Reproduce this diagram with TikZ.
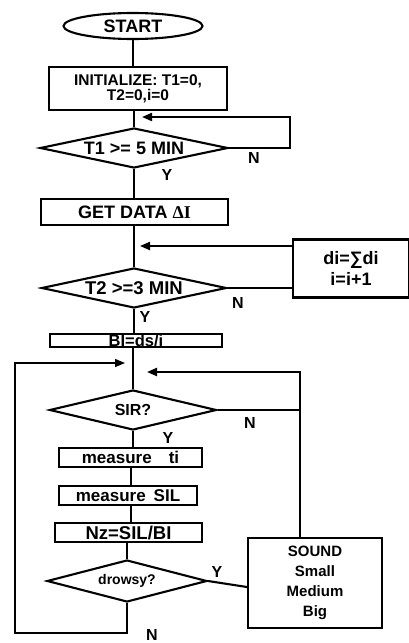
\documentclass[tikz,border=0pt]{standalone}
\usepackage{fontspec}
\setmainfont{Liberation Sans}
\newfontfamily\serifface{Liberation Serif}
\usetikzlibrary{shapes.geometric,arrows.meta}
\newcommand{\fs}[1]{\bfseries\fontsize{#1}{#1}\selectfont}
\begin{document}
\begin{tikzpicture}[x=1pt,y=-1pt,line width=2.1pt,
  box/.style={draw,rectangle,inner sep=0pt,font=\fs{17}},
  dec/.style={draw,diamond,aspect=4.5,inner sep=0pt,font=\fs{18}},
  lbl/.style={font=\fs{16},inner sep=0pt},
  arr/.style={-{Triangle[length=10pt,width=8pt]}},
  thinline/.style={line width=1.3pt}]
\useasboundingbox (0,0) rectangle (409,643);

% main column
\node[draw,ellipse,minimum width=139pt,minimum height=26pt,inner sep=0pt,font=\fs{18}] (start) at (133,26) {START};
\node[box,minimum width=178pt,minimum height=43pt,align=center,font=\bfseries\fontsize{15.5}{15}\selectfont] (init) at (138,88.5) {INITIALIZE: T1=0,\\T2=0,i=0};
\node[dec,minimum width=188pt,minimum height=40pt] (d1) at (134,148) {T1 >= 5 MIN};
\node[box,minimum width=187pt,minimum height=26pt,font=\fs{18}] (get) at (134.5,212) {GET DATA {\serifface ΔI}};
\node[box,minimum width=116pt,minimum height=58pt,align=center,font=\bfseries\fontsize{18}{21}\selectfont] (di) at (351,268.5) {di=∑di\\i=i+1};
\node[dec,minimum width=185pt,minimum height=40pt,font=\fs{18.5}] (d2) at (134,288) {T2 >=3 MIN};
\node[box,minimum width=172pt,minimum height=13pt,text height=12pt,text depth=1pt,font=\fs{16.5}] (bi) at (136,340.5) {BI=ds/i};
\node[dec,minimum width=167pt,minimum height=40pt,font=\fs{16}] (sir) at (133,410) {SIR?};
\node[box,minimum width=143pt,minimum height=19pt] (mti) at (130.5,457.5) {measure\hspace{17pt}ti};
\node[box,minimum width=138pt,minimum height=19pt] (msil) at (128,495.5) {measure\hspace{8pt}SIL};
\node[box,minimum width=147pt,minimum height=19pt,font=\fs{18.5}] (nz) at (128.5,532.5) {Nz=SIL/BI};
\node[dec,minimum width=160pt,minimum height=42pt,font=\fs{14}] (dr) at (127,581) {drowsy?};
\node[box,minimum width=134pt,minimum height=90pt,align=center,font=\bfseries\fontsize{15}{20}\selectfont] (snd) at (315,583) {SOUND\\Small\\Medium\\Big};

% helper points for loops
\coordinate (spine) at (131,0);
\coordinate (l1c) at (290,117);
\coordinate (l1t) at (142,117);
\coordinate (l2t) at (140,246);
\coordinate (r3) at (300,372);
\coordinate (r3t) at (147,372);
\coordinate (lb) at (15,633);
\coordinate (lt) at (125,363);

% straight flow
\draw (start.south) -- (start.south |- init.north);
\draw (init.south -| d1.north) -- (d1.north);
\draw (d1.south) -- (d1.south |- get.north);
\draw (get.south -| d2.north) -- (d2.north);
\draw (d2.south) -- (d2.south |- bi.north);
\draw (bi.south -| sir.north) -- (sir.north);
\draw (sir.south) -- (sir.south |- mti.north);
\draw (mti.south -| spine) -- (msil.north -| spine);
\draw (msil.south -| spine) -- (nz.north -| spine);
\draw (nz.south -| dr.north) -- (dr.north);

% loops
\draw[arr] (d1.east) -| (l1c) -- (l1t);
\draw (d2.east) -- (d2.east -| di.west);
\draw[arr] (di.west |- l2t) -- (l2t);
\draw (sir.east) -- (sir.east -| r3);
\draw[arr] (snd.north -| r3) -- (r3) -- (r3t);
\draw (dr.east) -- ([yshift=-4pt]snd.west);
\draw[thinline,arr] (dr.south) |- (lb) |- (lt);

% branch labels
\node[lbl] (n1) at (254,158) {N};
\node[lbl] (y1) at (167,175) {Y};
\node[lbl] (n2) at (238,303) {N};
\node[lbl] (y2) at (145,317) {Y};
\node[lbl] (n3) at (250,423) {N};
\node[lbl] (y3) at (168,438) {Y};
\node[lbl] (y4) at (217,572) {Y};
\node[lbl] (n4) at (152,635) {N};
\end{tikzpicture}
\end{document}
